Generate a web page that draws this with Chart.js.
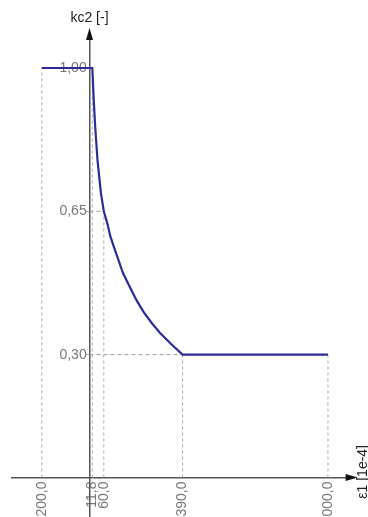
<!DOCTYPE html>
<html>
<head>
<meta charset="utf-8">
<script src="https://cdn.jsdelivr.net/npm/chart.js@4.4.1/dist/chart.umd.min.js"></script>
<style>
  html, body { margin: 0; padding: 0; background: #fff; }
  #wrap { width: 368px; height: 517px; }
</style>
</head>
<body>
<div id="wrap"><canvas id="chart"></canvas></div>
<script>
// kc2 curve (eps1 in 1e-4)
const eps1 = [-200, 11.8, 18, 24, 33.5, 47.8, 60, 75, 87, 100, 122, 140, 171, 200, 226, 260, 296, 340, 390, 1000];
const kc2 = [1.00, 1.00, 0.92, 0.856, 0.775, 0.695, 0.65, 0.62, 0.59, 0.567, 0.53, 0.50, 0.463, 0.43, 0.405, 0.378, 0.353, 0.327, 0.30, 0.30];

// marked points with drop lines
const keyX = [-200, 11.8, 60, 390, 1000];
const keyY = [1.00, 1.00, 0.65, 0.30, 0.30];
const hLineX = [60, 390];
const hLineY = [0.65, 0.30];

const xTicks = [-200, 11.8, 60, 390, 1000];
const yTicks = [0.30, 0.65, 1.00];

const lineColor = '#2b2b9a';
const axisColor = '#555';
const dropColor = '#a8a8a8';
const labelFont = { family: 'Arial, "Liberation Sans", sans-serif', size: 14 };

const fmt = (v, d) => v.toFixed(d).replace('.', ',');

// axes sit on the zero lines, so they should not take any layout room
const noRoom = s => {
  if (s.isHorizontal()) s.height = 0; else s.width = 0;
  s.paddingTop = 0;
  s.paddingBottom = 0;
  s.paddingLeft = 0;
  s.paddingRight = 0;
};

// drop line datasets (built from the key points)
const dropSets = [];
keyX.forEach((x, i) => {
  dropSets.push({
    data: [{ x: x, y: 0 }, { x: x, y: keyY[i] }],
    borderColor: dropColor, borderWidth: 1, borderDash: [3, 3],
    pointRadius: 0, order: 2
  });
});
hLineX.forEach((x, i) => {
  dropSets.push({
    data: [{ x: 0, y: hLineY[i] }, { x: x, y: hLineY[i] }],
    borderColor: '#999', borderWidth: 1, borderDash: [4, 3],
    pointRadius: 0, order: 2
  });
});

// arrows and axis titles
const axisDecor = {
  id: 'axisDecor',
  afterDraw(chart) {
    const { ctx, chartArea, scales } = chart;
    const x0 = scales.x.getPixelForValue(0);
    const y0 = scales.y.getPixelForValue(0);
    ctx.save();
    ctx.fillStyle = '#111';
    // x arrow
    ctx.beginPath();
    ctx.moveTo(chartArea.right + 7, y0);
    ctx.lineTo(chartArea.right - 5, y0 - 3.5);
    ctx.lineTo(chartArea.right - 5, y0 + 3.5);
    ctx.closePath();
    ctx.fill();
    // y arrow
    ctx.beginPath();
    ctx.moveTo(x0, chartArea.top - 7);
    ctx.lineTo(x0 - 3.5, chartArea.top + 5);
    ctx.lineTo(x0 + 3.5, chartArea.top + 5);
    ctx.closePath();
    ctx.fill();
    // titles
    ctx.fillStyle = '#222';
    ctx.font = '14px Arial, "Liberation Sans", sans-serif';
    ctx.textAlign = 'center';
    ctx.textBaseline = 'middle';
    ctx.fillText('kc2 [-]', x0, 18);
    ctx.translate(363, 445);
    ctx.rotate(-Math.PI / 2);
    ctx.textAlign = 'right';
    ctx.fillText('\u03b51 [1e-4]', 0, 0);
    ctx.restore();
  }
};

new Chart(document.getElementById('chart'), {
  type: 'line',
  data: {
    datasets: [
      {
        data: eps1.map((x, i) => ({ x: x, y: kc2[i] })),
        borderColor: lineColor,
        borderWidth: 2.2,
        tension: 0,
        pointRadius: 0,
        order: 1
      },
      ...dropSets
    ]
  },
  options: {
    responsive: true,
    maintainAspectRatio: false,
    animation: false,
    layout: { padding: { left: 12, right: 17.4, top: 35, bottom: 0 } },
    plugins: { legend: { display: false }, tooltip: { enabled: false } },
    scales: {
      x: {
        type: 'linear',
        min: -325,
        max: 1095,
        position: { y: 0 },
        afterFit: noRoom,
        afterBuildTicks: s => { s.ticks = xTicks.map(v => ({ value: v })); },
        grid: { display: true, drawOnChartArea: false, drawTicks: true, tickLength: 1, tickColor: 'rgba(0,0,0,0)' },
        border: { color: axisColor, width: 1.5 },
        ticks: {
          autoSkip: false, minRotation: 90, maxRotation: 90,
          color: '#777', font: labelFont,
          callback: v => fmt(v, 1)
        }
      },
      y: {
        type: 'linear',
        min: -0.0965,
        max: 1.0806,
        position: { x: 0 },
        afterFit: noRoom,
        afterBuildTicks: s => { s.ticks = yTicks.map(v => ({ value: v })); },
        grid: { display: true, drawOnChartArea: false, drawTicks: true, tickLength: 4, tickColor: '#aaa' },
        border: { color: axisColor, width: 1.5 },
        ticks: {
          autoSkip: false, color: '#777', font: labelFont,
          callback: v => fmt(v, 2) + '\u2009'
        }
      }
    }
  },
  plugins: [axisDecor]
});
</script>
</body>
</html>
